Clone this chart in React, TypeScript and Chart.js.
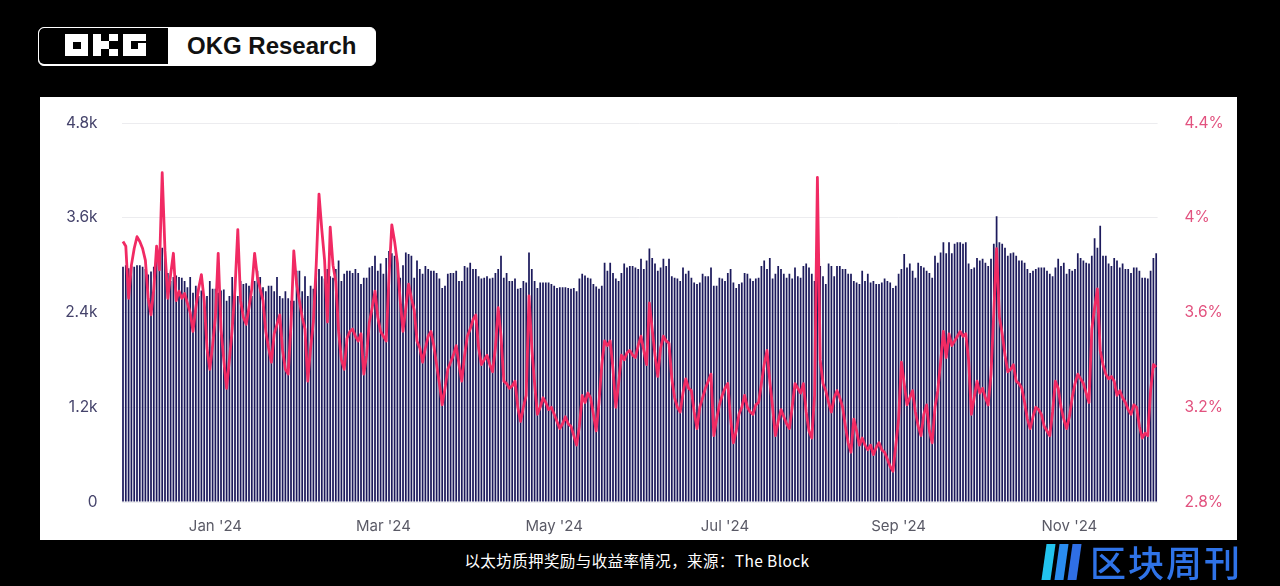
import React, { useEffect, useRef } from 'react';
import { Chart, registerables } from 'chart.js';

Chart.register(...registerables);

// First day of the series (Nov 29, 2023), one bar per day
const START_DATE_UTC = [2023, 10, 29];

const TICK_DATES = ['2024-01-01', '2024-03-01', '2024-05-01', '2024-07-01', '2024-09-01', '2024-11-01'];
const TICK_LABELS = ["Jan '24", "Mar '24", "May '24", "Jul '24", "Sep '24", "Nov '24"];

// Daily staking rewards (left axis)
const STAKING_REWARDS = [
  2980, 3000, 2960, 2990, 2980, 3000, 3000, 2980, 2950, 2880,
  2920, 2980, 3050, 3150, 3220, 3200, 2900, 2800, 2850, 2870,
  2850, 2840, 2800, 2720, 2850, 2650, 2740, 2610, 2680, 2610,
  2610, 2800, 2700, 2700, 2650, 2680, 2690, 2550, 2610, 2850,
  2650, 2610, 2800, 2760, 2770, 2740, 2610, 2800, 2930, 2850,
  2720, 2670, 2740, 2740, 2670, 2850, 2610, 2580, 2670, 2580,
  2550, 2550, 2930, 2930, 2670, 2860, 2610, 2740, 2700, 2900,
  2950, 2860, 2830, 2950, 2860,
  2840, 2950, 3060, 2800, 2890, 2930, 2930, 2900, 2950, 2900,
  2760, 2840, 2840, 2970, 2990, 3120, 2930, 3020, 2890, 3090,
  3180, 3150, 3120, 3030, 2840, 3000, 3160, 3140, 3120, 2840,
  3060, 2950, 2890, 2990, 2950, 2930, 2930, 2900, 2830, 2710,
  2740, 2890, 2900, 2900, 2930, 2800, 2800, 2990, 2970, 3030,
  2950, 2950, 2860, 2830, 2840, 2860, 2830, 2840, 2900, 2950,
  3120, 2840, 2900, 2800, 2800, 2830, 2700, 2710, 2800, 2780,
  3160, 2950, 2800, 2710, 2780, 2780, 2780, 2780, 2760, 2740,
  2710, 2720, 2720, 2720, 2710, 2700, 2710, 2670, 2830, 2890,
  2870, 2840, 2830, 2760, 2730, 2700, 2740, 3030, 2930, 3030,
  2900, 2830, 2800, 2900, 3020, 2970,
  2990, 2990, 2970, 2950, 3080, 2950, 3060, 3210, 3090, 3020,
  2930, 2970, 3080, 2990, 3080, 2860, 2840, 2830, 2800, 2970,
  2890, 2930, 2840, 2780, 2760, 2780, 2890, 2860, 2860, 2970,
  2740, 2740, 2840, 2830, 2800, 2900, 2950, 2780, 2710, 2760,
  2780, 2900, 2890, 2830, 2800, 2830, 2840, 2990, 3060, 2950,
  3090, 2830, 2890, 2990, 2950, 2890, 2840, 2890, 2830, 2970,
  2860, 2840, 2990, 3020, 2970, 2890, 2800, 2880, 2990, 2860,
  2760, 3020, 2990, 2860, 2990, 2990, 2950, 2950, 2890, 2890,
  2800, 2780, 2760, 2930, 2800, 2890, 2780, 2800, 2760, 2760,
  2780, 2830, 2800, 2780, 2710, 2740, 2890, 2950, 3140, 2970,
  3020, 2930, 2840, 3030, 2990, 2970, 2930,
  2900, 2840, 3120, 3030, 3160, 3290, 3150, 3290, 3150, 3270,
  3290, 3290, 3270, 3290, 3020, 2950, 2970, 3090, 3060, 3080,
  3030, 2990, 3080, 3270, 3620, 3290, 3270, 3220, 3120, 3150,
  3160, 3120, 3060, 3060, 3030, 2950, 2900, 2930, 2950, 2970,
  2970, 2970, 2930, 2890, 2860, 2970, 3080, 2990, 3030, 2890,
  2950, 2930, 2950, 3150, 3090, 3060, 3030, 3020, 3120, 3340,
  3220, 3500, 3120, 3120, 3020, 2990, 3090, 3060, 2970, 3020,
  2950, 2950, 2900, 2970, 2970, 2930, 2840, 2840, 2830, 2930,
  3090, 3150,
];

// Daily staking yield in % (right axis)
const STAKING_YIELD = [
  3.90, 3.88, 3.66, 3.80, 3.87, 3.92, 3.90, 3.87, 3.82, 3.66,
  3.59, 3.70, 3.88, 3.78, 4.19, 3.86, 3.66, 3.76, 3.85, 3.65,
  3.69, 3.66, 3.68, 3.64, 3.60, 3.52, 3.62, 3.70, 3.76, 3.65,
  3.45, 3.36, 3.46, 3.58, 3.85, 3.53, 3.40, 3.28, 3.40, 3.53,
  3.70, 3.95, 3.65, 3.58, 3.55, 3.62, 3.70, 3.85, 3.75, 3.70,
  3.65, 3.52, 3.45, 3.39, 3.51, 3.55, 3.59, 3.44, 3.36, 3.34,
  3.55, 3.86, 3.72, 3.65, 3.58, 3.53, 3.31, 3.45, 3.56, 3.80,
  4.10, 3.95, 3.82, 3.56, 3.96, 3.80, 3.73, 3.52, 3.40, 3.36,
  3.49, 3.52, 3.53, 3.50, 3.48, 3.51, 3.34, 3.42, 3.56, 3.62,
  3.69, 3.58, 3.52, 3.50, 3.48, 3.75, 3.97, 3.90, 3.81, 3.65,
  3.52, 3.62, 3.72, 3.66, 3.61, 3.48, 3.45, 3.39, 3.45, 3.50,
  3.52, 3.46, 3.38, 3.30, 3.21, 3.28, 3.36, 3.39, 3.42, 3.46,
  3.38, 3.31, 3.42, 3.50, 3.53, 3.57, 3.59, 3.45, 3.38, 3.40,
  3.42, 3.38, 3.35, 3.45, 3.62, 3.50, 3.31, 3.30, 3.28, 3.29,
  3.31, 3.20, 3.14, 3.20, 3.25, 3.67, 3.45, 3.30, 3.17, 3.20,
  3.24, 3.22, 3.19, 3.20, 3.17, 3.14, 3.11, 3.13, 3.16, 3.13,
  3.12, 3.08, 3.04, 3.12, 3.25, 3.22, 3.26, 3.24, 3.17, 3.10,
  3.22, 3.38, 3.48, 3.46, 3.48, 3.36, 3.20, 3.30, 3.42, 3.40,
  3.43, 3.44, 3.42, 3.41, 3.46, 3.50, 3.44, 3.38, 3.64, 3.53,
  3.42, 3.33, 3.45, 3.50, 3.48, 3.47, 3.32, 3.24, 3.20, 3.18,
  3.26, 3.32, 3.28, 3.27, 3.18, 3.11, 3.20, 3.24, 3.28, 3.31,
  3.34, 3.08, 3.15, 3.21, 3.25, 3.28, 3.30, 3.15, 3.05, 3.10,
  3.17, 3.20, 3.25, 3.20, 3.18, 3.17, 3.21, 3.22, 3.30, 3.38,
  3.44, 3.31, 3.20, 3.08, 3.14, 3.19, 3.16, 3.13, 3.11, 3.20,
  3.30, 3.28, 3.26, 3.30, 3.18, 3.10, 3.07, 3.25, 4.17, 3.40,
  3.30, 3.27, 3.22, 3.18, 3.24, 3.27, 3.24, 3.20, 3.12, 3.05,
  3.01, 3.15, 3.10, 3.04, 3.07, 3.04, 3.02, 3.04, 3.00, 3.03,
  3.05, 3.02, 3.01, 2.98, 2.95, 2.93, 3.04, 3.15, 3.39, 3.30,
  3.21, 3.24, 3.27, 3.18, 3.12, 3.08, 3.17, 3.21, 3.10, 3.05,
  3.20, 3.27, 3.39, 3.52, 3.41, 3.51, 3.46, 3.48, 3.50, 3.52,
  3.50, 3.51, 3.40, 3.17, 3.24, 3.31, 3.26, 3.28, 3.24, 3.21,
  3.34, 3.60, 3.87, 3.58, 3.51, 3.42, 3.35, 3.36, 3.38, 3.31,
  3.30, 3.28, 3.22, 3.15, 3.11, 3.16, 3.20, 3.19, 3.17, 3.12,
  3.10, 3.08, 3.18, 3.31, 3.28, 3.20, 3.15, 3.11, 3.16, 3.24,
  3.30, 3.34, 3.32, 3.30, 3.26, 3.22, 3.53, 3.62, 3.70, 3.44,
  3.38, 3.34, 3.32, 3.33, 3.31, 3.25, 3.27, 3.24, 3.22, 3.19,
  3.17, 3.21, 3.20, 3.12, 3.07, 3.09, 3.08, 3.27, 3.38, 3.37,
];

const DATES = STAKING_REWARDS.map((_, i) =>
  new Date(Date.UTC(START_DATE_UTC[0], START_DATE_UTC[1], START_DATE_UTC[2] + i)).toISOString().slice(0, 10)
);

const FONT = 'Inter, "Noto Sans", sans-serif';

function ChartPanel() {
  const ref = useRef<HTMLCanvasElement | null>(null);
  useEffect(() => {
    if (!ref.current) return;
    const chart = new Chart(ref.current, {
      type: 'bar',
      data: {
        labels: DATES,
        datasets: [
          {
            type: 'line',
            label: 'Yield',
            data: STAKING_YIELD,
            yAxisID: 'y1',
            borderColor: '#f12a63',
            borderWidth: 2.8,
            pointRadius: 0,
            tension: 0,
            borderJoinStyle: 'round',
            order: 0,
          } as any,
          {
            type: 'bar',
            label: 'Rewards',
            data: STAKING_REWARDS,
            yAxisID: 'y',
            backgroundColor: '#1c1a5c',
            barPercentage: 0.62,
            categoryPercentage: 1,
            order: 1,
          } as any,
        ],
      },
      options: {
        animation: false,
        responsive: true,
        maintainAspectRatio: false,
        layout: { padding: { top: 26, left: 0, right: 0, bottom: 0 } },
        plugins: { legend: { display: false }, tooltip: { enabled: false } },
        scales: {
          x: {
            grid: { display: false },
            border: { display: false },
            afterFit: (s: any) => { s.height = 38; },
            ticks: {
              autoSkip: false,
              maxRotation: 0,
              minRotation: 0,
              padding: 7,
              color: '#5a5a66',
              font: { family: FONT, size: 15 },
              callback: function (this: any, value: any) {
                const d = this.getLabelForValue(value);
                const k = TICK_DATES.indexOf(d);
                return k >= 0 ? TICK_LABELS[k] : null;
              },
            },
          },
          y: {
            position: 'left',
            min: 0,
            max: 4800,
            afterFit: (s: any) => { s.width = 81.6; s.paddingTop = 0; s.paddingBottom = 0; },
            grid: { color: '#ececef', lineWidth: 1, drawTicks: false },
            border: { display: false },
            ticks: {
              stepSize: 1200,
              padding: 24,
              color: '#45436b',
              font: { family: FONT, size: 15.5 },
              callback: (v: any) => (v === 0 ? '0' : (v / 1000).toFixed(1) + 'k'),
            },
          },
          y1: {
            position: 'right',
            min: 2.8,
            max: 4.4,
            afterFit: (s: any) => { s.width = 79.4; s.paddingTop = 0; s.paddingBottom = 0; },
            grid: { display: false, drawTicks: false },
            border: { display: false },
            ticks: {
              stepSize: 0.4,
              padding: 27,
              color: '#e2527f',
              font: { family: FONT, size: 15.5 },
              callback: (v: any) => Math.round(v * 10) / 10 + '%',
            },
          },
        },
      },
    });
    return () => chart.destroy();
  }, []);
  return (
    <div style={{ position: 'absolute', left: 40, top: 97, width: 1197, height: 443, background: '#ffffff' }}>
      <canvas ref={ref} />
    </div>
  );
}

function Block({ l, t, w, h, c }: { l: number; t: number; w: number; h: number; c: string }) {
  return <div style={{ position: 'absolute', left: l, top: t, width: w, height: h, background: c }} />;
}

function OkgLogo() {
  return (
    <div
      style={{
        position: 'absolute', left: 38, top: 27, width: 338, height: 39,
        border: '1.5px solid #ffffff', borderRadius: 6, overflow: 'hidden', boxSizing: 'border-box', background: '#fff',
      }}
    >
      <div style={{ position: 'absolute', left: 0, top: 0, width: 129, height: 36, background: '#000', borderRadius: '5px 0 0 5px' }}>
        {/* O */}
        <Block l={26} t={6} w={23} h={22} c="#fff" />
        <Block l={34} t={14} w={8} h={7} c="#000" />
        {/* K */}
        <Block l={54} t={6} w={8} h={22} c="#fff" />
        <Block l={62} t={13} w={8} h={8} c="#fff" />
        <Block l={70} t={6} w={9} h={7} c="#fff" />
        <Block l={70} t={21} w={9} h={7} c="#fff" />
        {/* G */}
        <Block l={84} t={6} w={23} h={7} c="#fff" />
        <Block l={84} t={6} w={8} h={22} c="#fff" />
        <Block l={84} t={21} w={23} h={7} c="#fff" />
        <Block l={99} t={15} w={8} h={13} c="#fff" />
      </div>
      <div
        style={{
          position: 'absolute', left: 148, top: 4, fontFamily: '"Liberation Sans", Arial, sans-serif',
          fontWeight: 700, fontSize: 24, color: '#111', lineHeight: '28px', whiteSpace: 'nowrap',
        }}
      >
        OKG Research
      </div>
    </div>
  );
}

function WeeklyLogo() {
  const bar = (l: number, c: string) => (
    <div style={{ position: 'absolute', left: l, top: 0, width: 9, height: 36, background: c, transform: 'skewX(-8deg)' }} />
  );
  return (
    <div style={{ position: 'absolute', left: 1040, top: 542, width: 240, height: 40 }}>
      <div style={{ position: 'absolute', left: 2, top: 2, width: 45, height: 36 }}>
        {bar(2, '#22c3ee')}
        {bar(15, '#2a8cf0')}
        {bar(28, '#2f6fe6')}
      </div>
      <div
        style={{
          position: 'absolute', left: 50, top: -3, fontFamily: '"Noto Sans CJK SC", sans-serif', fontWeight: 500,
          fontSize: 36, lineHeight: '44px', color: '#2f73e8', whiteSpace: 'nowrap', letterSpacing: 2,
        }}
      >
        区块周刊
      </div>
    </div>
  );
}

export default function App() {
  return (
    <div style={{ position: 'fixed', left: 0, top: 0, width: 1280, height: 586, background: '#000', overflow: 'hidden' }}>
      <OkgLogo />
      <ChartPanel />
      <div
        style={{
          position: 'absolute', left: 0, width: 1274, top: 549, textAlign: 'center', color: '#fff',
          fontFamily: '"Noto Sans CJK SC", sans-serif', fontSize: 15.5, lineHeight: '22px', whiteSpace: 'nowrap',
          letterSpacing: 0.4,
        }}
      >
        以太坊质押奖励与收益率情况，来源：The Block
      </div>
      <WeeklyLogo />
    </div>
  );
}
